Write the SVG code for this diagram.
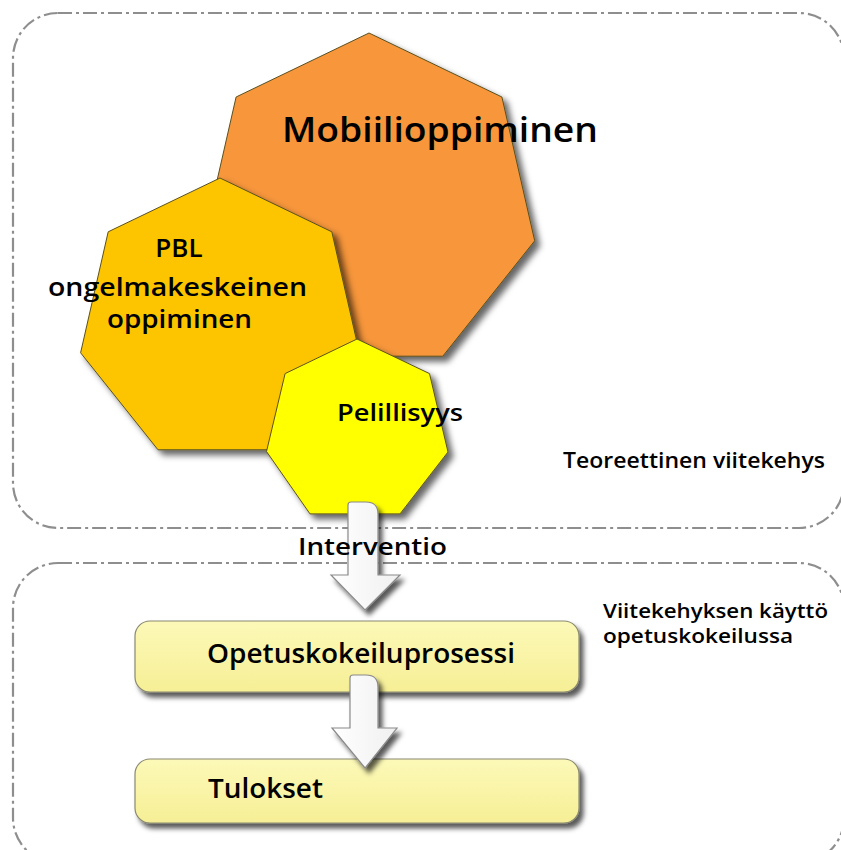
<svg xmlns="http://www.w3.org/2000/svg" width="841" height="850" viewBox="0 0 841 850">
<defs>
<filter id="sh" x="-20%" y="-20%" width="150%" height="150%">
<feDropShadow dx="5" dy="5" stdDeviation="3" flood-color="#000" flood-opacity="0.6"/>
</filter>
<filter id="shs" x="-20%" y="-20%" width="150%" height="150%">
<feDropShadow dx="4" dy="5" stdDeviation="2.5" flood-color="#000" flood-opacity="0.65"/>
</filter>
<linearGradient id="box" x1="0" y1="0" x2="0" y2="1">
<stop offset="0" stop-color="#FCF9B8"/>
<stop offset="1" stop-color="#F6EF96"/>
</linearGradient>
<linearGradient id="arr" x1="0" y1="0" x2="1" y2="0">
<stop offset="0" stop-color="#FFFFFF"/>
<stop offset="1" stop-color="#F0F0F0"/>
</linearGradient>
</defs>
<style>
.frame{fill:none;stroke:#8e8e8e;stroke-width:2.2;stroke-dasharray:14 4 3 4}
.hep{stroke:#5a5020;stroke-width:1;filter:url(#sh)}
.box{fill:url(#box);stroke:#8a8a70;stroke-width:1.2;filter:url(#shs)}
.arrow{fill:url(#arr);stroke:#8a8a8a;stroke-width:1.2;filter:url(#shs)}
text{font-family:"Open Sans","Liberation Sans",sans-serif;font-weight:600;fill:#000}
</style>
<rect width="841" height="850" fill="#fff"/>
<g id="frame-teoreettinen">
<rect class="frame" x="13" y="13" width="831" height="515" rx="45" ry="45"/>
<text x="563" y="468" font-size="21" textLength="262" lengthAdjust="spacingAndGlyphs">Teoreettinen viitekehys</text>
</g>
<g id="frame-kaytto">
<rect class="frame" x="13" y="563" width="831" height="300" rx="45" ry="45"/>
<text x="603" y="618" font-size="20" textLength="225" lengthAdjust="spacingAndGlyphs">Viitekehyksen käyttö</text>
<text x="603" y="643" font-size="20" textLength="190" lengthAdjust="spacingAndGlyphs">opetuskokeilussa</text>
</g>
<g id="node-mobiili">
<polygon class="hep" fill="#F7963A" points="369,33 501.9,97 534.7,240.8 442.8,356.2 295.2,356.2 203.3,240.8 236.1,97"/>
</g>
<g id="node-pbl">
<polygon class="hep" fill="#FCC500" points="220,178 331.8,231.8 359.4,352.8 282,449.8 158,449.8 80.6,352.8 108.2,231.8"/>
</g>
<g id="node-pelillisyys">
<polygon class="hep" fill="#FFFF00" points="357,339 429.5,373.6 448,452 400,513.9 310,513.9 266.5,451.5 285.1,373.6"/>
</g>
<g id="node-opetus">
<rect class="box" x="135" y="621" width="444" height="71" rx="15" ry="15"/>
<text x="207" y="663" font-size="27" textLength="308" lengthAdjust="spacingAndGlyphs">Opetuskokeiluprosessi</text>
</g>
<g id="node-tulokset">
<rect class="box" x="135" y="759" width="444" height="64" rx="15" ry="15"/>
<text x="208" y="798" font-size="27" textLength="115" lengthAdjust="spacingAndGlyphs">Tulokset</text>
</g>
<g id="connectors">
<path class="arrow" d="M348,575 V505 Q348,502 351,502 H366 Q378,502 378,514 V575 H400 L365,610 L331,575 Z"/>
<path class="arrow" d="M350,728 V678 Q350,675 353,675 H366 Q378,675 378,687 V728 H397 L365,768 L332,728 Z"/>
</g>
<g id="labels">
<text x="282" y="142" font-size="35" textLength="316" lengthAdjust="spacingAndGlyphs">Mobiilioppiminen</text>
<text x="179" y="257" font-size="26" text-anchor="middle">PBL</text>
<text x="48" y="296" font-size="25" textLength="259" lengthAdjust="spacingAndGlyphs">ongelmakeskeinen</text>
<text x="107" y="328" font-size="25" textLength="145" lengthAdjust="spacingAndGlyphs">oppiminen</text>
<text x="337" y="421" font-size="24" textLength="126" lengthAdjust="spacingAndGlyphs">Pelillisyys</text>
<text x="298" y="555" font-size="24" textLength="149" lengthAdjust="spacingAndGlyphs">Interventio</text>
</g>
</svg>
